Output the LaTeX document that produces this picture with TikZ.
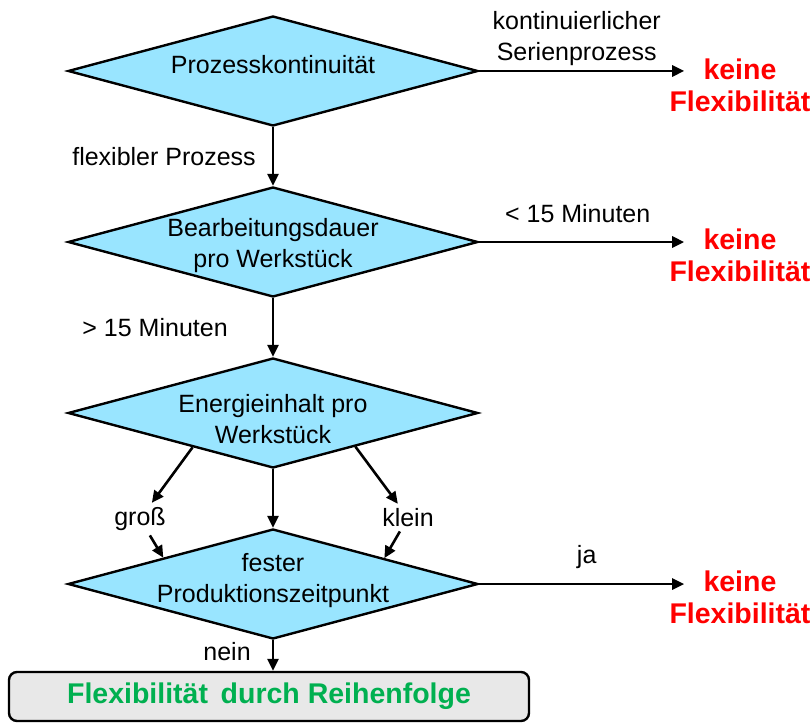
\documentclass[tikz,border=0pt]{standalone}
\usepackage{fontspec}
\setmainfont{Liberation Sans}
\usetikzlibrary{arrows.meta,shapes.geometric,calc,positioning}

\definecolor{decblue}{RGB}{153,229,255}
\definecolor{noflex}{RGB}{255,0,0}
\definecolor{flexgreen}{RGB}{0,176,80}
\definecolor{boxgray}{RGB}{232,232,232}

\begin{document}
\begin{tikzpicture}[x=1pt,y=-1pt,->,>={Triangle[length=12pt,width=11pt]},line width=2.6pt,node distance=171pt,
  every node/.style={font=\fontsize{25}{31}\selectfont,inner sep=0pt,align=center},
  decision/.style={diamond,draw,fill=decblue,line width=2.4pt,minimum width=410pt,minimum height=110pt},
  result/.style={font=\fontsize{28.5}{32}\selectfont\bfseries,text=noflex},
  final/.style={draw,rounded corners=8pt,fill=boxgray,line width=2.4pt,minimum width=520pt,minimum height=49pt,
    font=\fontsize{28.5}{32}\selectfont\bfseries,text=flexgreen}]
  \useasboundingbox (0,0) rectangle (810,722);

  \node[decision] (d1) at (273,71) {};
  \node[decision] (d2) [below of=d1] {};
  \node[decision] (d3) [below of=d2] {};
  \node[decision] (d4) [below of=d3] {};
  \node[final] (fin) at (269,696.5) {Flexibilität\, durch Reihenfolge};

  \node (t1) [yshift=6pt] at (d1) {Prozesskontinuität};
  \node (t2) [yshift=-4pt] at (d2) {Bearbeitungsdauer\\pro Werkstück};
  \node (t3) [yshift=-6pt] at (d3) {Energieinhalt pro\\Werkstück};
  \node (t4) [yshift=3pt] at (d4) {fester\\Produktionszeitpunkt};

  \coordinate[right=205pt of d1] (e1);
  \coordinate[right=205pt of d2] (e2);
  \coordinate[right=205pt of d4] (e4);
  \node[result, right=-16pt of e1, yshift=-14pt] (r1) {keine\\Flexibilität};
  \node[result, right=-16pt of e2, yshift=-13pt] (r2) {keine\\Flexibilität};
  \node[result, right=-16pt of e4, yshift=-13pt] (r4) {keine\\Flexibilität};

  \node (gross) at (140,519) {groß};
  \node (klein) at (408,517.5) {klein};

  \path
(d1) edge node[left=16pt] {flexibler Prozess} (d2)
(d1) edge node[above=4pt, xshift=-5pt] {kontinuierlicher\\Serienprozess} (e1)
(d2) edge node[left=44pt] {> 15 Minuten} (d3)
(d2) edge node[above=18pt, xshift=-4pt] {< 15 Minuten} (e2)
(d3) edge (d4)
($(d3.west)!0.61!(d3.south)$) edge [shorten >=4pt] (gross)
(gross) edge [shorten <=4pt] ($(d4.west)!0.468!(d4.north)$)
($(d3.east)!0.6!(d3.south)$) edge [shorten >=4pt] (klein)
(klein) edge [shorten <=4pt] ($(d4.east)!0.46!(d4.north)$)
(d4) edge node[above=14pt, xshift=5pt] {ja} (e4)
(d4.south) edge node[left=21pt, yshift=4pt] {nein} (d4.south |- fin.north)
;
\end{tikzpicture}
\end{document}
